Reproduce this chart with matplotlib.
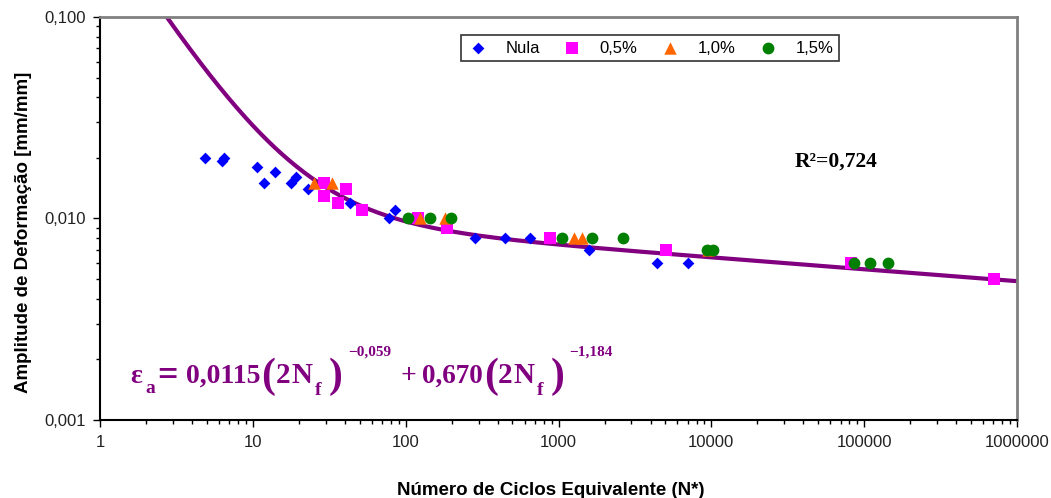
import numpy as np
import matplotlib
matplotlib.use("Agg")
import matplotlib.pyplot as plt
from matplotlib.ticker import FixedLocator, FuncFormatter, LogLocator, NullFormatter

plt.rcParams['font.family'] = ['Liberation Sans', 'DejaVu Sans']

# ensaios por nivel de tensao media
nula_n = [4.9, 6.3, 6.5, 10.7, 11.8, 14, 17.7, 19.3, 22.8, 43, 78, 85, 283, 447, 650, 1580, 4400, 7000]
nula_e = [0.020, 0.0193, 0.020, 0.018, 0.015, 0.017, 0.015, 0.016, 0.014, 0.012, 0.010, 0.011,
          0.008, 0.008, 0.008, 0.007, 0.006, 0.006]

p05_n = [29.4, 29.4, 36, 40.5, 52, 121, 186, 880, 5060, 82000, 707000]
p05_e = [0.015, 0.013, 0.012, 0.014, 0.011, 0.010, 0.009, 0.008, 0.007, 0.006, 0.005]

p10_n = [25, 33, 124, 181, 1260, 1420, 9500]
p10_e = [0.015, 0.015, 0.010, 0.010, 0.008, 0.008, 0.007]

p15_n = [104, 144, 199, 1050, 1660, 2630, 9300, 10200, 86000, 109000, 144000]
p15_e = [0.010, 0.010, 0.010, 0.008, 0.008, 0.008, 0.007, 0.007, 0.006, 0.006, 0.006]

# curva ajustada (Coffin-Manson)
coef_el, exp_el = 0.0115, -0.059
coef_pl, exp_pl = 0.670, -1.184
n_fit = np.logspace(0, 6, 500)
e_fit = coef_el * (2 * n_fit) ** exp_el + coef_pl * (2 * n_fit) ** exp_pl

W, H = 1051, 498
fig = plt.figure(figsize=(W / 100, H / 100), dpi=100)
ax = fig.add_axes([0.0951, 0.1566, 0.8726, 0.8093])

ax.plot(n_fit, e_fit, color='#800080', lw=3, zorder=2)

ax.scatter(nula_n, nula_e, s=36, c='#0000FF', marker='D', label='Nula', zorder=3, linewidths=0)
ax.scatter(p05_n, p05_e, s=72, c='#FF00FF', marker='s', label='0,5%', zorder=3, linewidths=0)
ax.scatter(p10_n, p10_e, s=80, c='#FF6600', marker='^', label='1,0%', zorder=3, linewidths=0)
ax.scatter(p15_n, p15_e, s=72, c='#008000', marker='o', label='1,5%', zorder=3, linewidths=0)

ax.set_xscale('log')
ax.set_yscale('log')
ax.set_xlim(1, 1e6)
ax.set_ylim(0.001, 0.1)

ax.xaxis.set_major_locator(FixedLocator([10 ** k for k in range(7)]))
ax.xaxis.set_major_formatter(FuncFormatter(lambda v, p: '%d' % round(v)))
ax.xaxis.set_minor_locator(LogLocator(base=10, subs=np.arange(2, 10)))
ax.xaxis.set_minor_formatter(NullFormatter())
ax.yaxis.set_major_locator(FixedLocator([0.001, 0.01, 0.1]))
ax.yaxis.set_major_formatter(FuncFormatter(lambda v, p: ('%.3f' % v).replace('.', ',')))
ax.yaxis.set_minor_locator(LogLocator(base=10, subs=np.arange(2, 10)))
ax.yaxis.set_minor_formatter(NullFormatter())

ax.tick_params(which='major', direction='out', length=5, width=1, labelsize=12,
               labelcolor='#222222', pad=5)
ax.tick_params(which='minor', direction='out', length=3, width=1)
ax.tick_params(axis='x', pad=6)

for s in ['left', 'bottom']:
    ax.spines[s].set_color('black')
    ax.spines[s].set_linewidth(1.5)
for s in ['top', 'right']:
    ax.spines[s].set_color('#808080')
    ax.spines[s].set_linewidth(2)

ax.set_xlabel('Número de Ciclos Equivalente (N*)', fontsize=13.5, fontweight='bold')
ax.set_ylabel('Amplitude de Deformação [mm/mm]', fontsize=13.5, fontweight='bold')
ax.xaxis.set_label_coords(0.492, -0.153)
ax.yaxis.set_label_coords(-0.074, 0.466)

leg = ax.legend(loc='center', bbox_to_anchor=(0.6, 0.923), ncol=4, fontsize=12,
                frameon=True, fancybox=False, edgecolor='black', handletextpad=1.0,
                columnspacing=1.3, borderpad=0.35, scatterpoints=1, handlelength=1.3)
leg.get_frame().set_linewidth(1.2)

ax.text(0.757, 0.628, 'R²=0,724', transform=ax.transAxes, fontsize=15.5,
        fontfamily='Liberation Serif', fontweight='bold', ha='left', va='baseline')

# equacao montada por partes: (texto, tamanho, x em px, linha de base em px)
eq_parts = [
    ('ε', 20, 130, 383), ('a', 14, 145, 393), ('=', 26, 157, 385), ('0,0115', 20, 186, 383),
    ('(', 30, 261, 387), ('2', 21, 276, 383), ('N', 21, 292, 383), ('f', 14, 315, 395),
    (')', 30, 329, 387), ('−0,059', 11, 348, 356),
    ('+', 20, 401, 383), ('0,670', 19.5, 422, 383),
    ('(', 30, 484, 387), ('2', 21, 498, 383), ('N', 21, 514, 383), ('f', 14, 537, 395),
    (')', 30, 551, 387), ('−1,184', 11, 569, 356),
]
for txt, fs, px, py in eq_parts:
    fig.text(px / W, (H - py) / H, txt, fontsize=fs, fontfamily='Liberation Serif',
             fontweight='bold', color='#800080', ha='left', va='baseline')

fig.savefig('out.png', dpi=100)
